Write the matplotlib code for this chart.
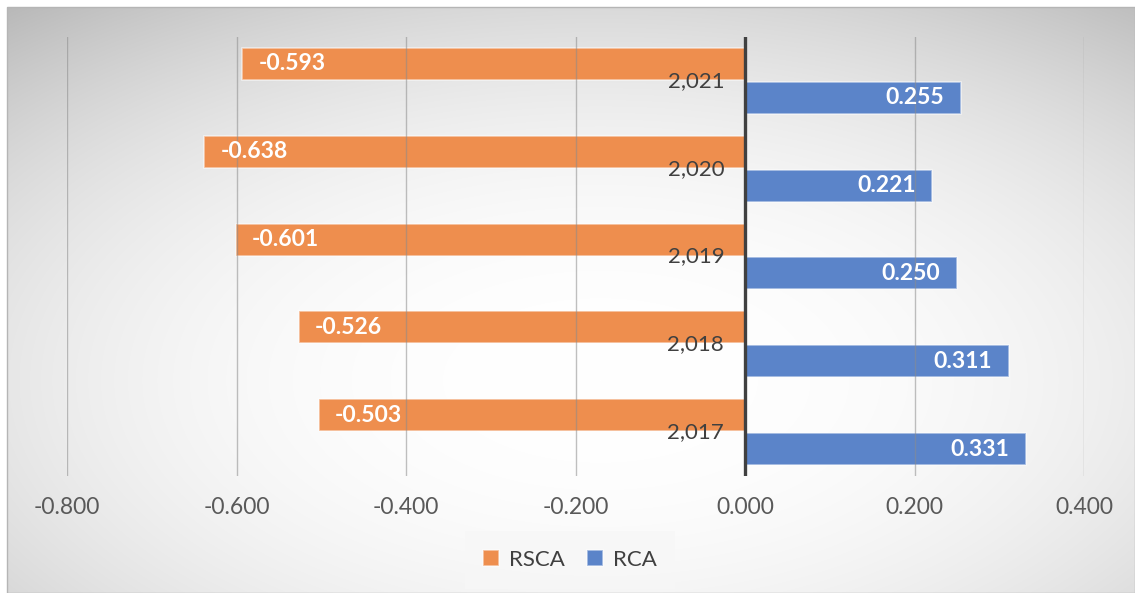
import numpy as np
import matplotlib
matplotlib.use("Agg")
import matplotlib.pyplot as plt
from matplotlib.ticker import FuncFormatter

# Data
years = [2017, 2018, 2019, 2020, 2021]
rsca = [-0.503, -0.526, -0.601, -0.638, -0.593]
rca = [0.331, 0.311, 0.250, 0.221, 0.255]
x_ticks = [-0.8, -0.6, -0.4, -0.2, 0.0, 0.2, 0.4]

W, H = 1135, 593
DPI = 100
plt.rcParams["font.family"] = ["Lato", "DejaVu Sans"]

fig = plt.figure(figsize=(W / DPI, H / DPI), dpi=DPI)
fig.patch.set_facecolor("white")

# Radial grey-to-white background panel
bg = fig.add_axes([7 / W, 0, 1 - 7 / W, 1 - 7 / H], zorder=-5)
yy, xx = np.mgrid[7:H, 7:W]
cx, cy = 600.0, 380.0
r = np.sqrt(((xx - cx) / W) ** 2 + ((yy - cy) / H) ** 2)
g = np.clip(1 - 0.45 * r ** 2.4, 0.72, 1.0)
bg.imshow(np.dstack([g, g, g]), aspect="auto", interpolation="bilinear",
          extent=[0, 1, 0, 1])
bg.set_axis_off()
fig.add_artist(plt.Rectangle((7 / W, 0), 1 - 7 / W, 1 - 7 / H,
                             transform=fig.transFigure, fill=False,
                             edgecolor="#b5b5b5", linewidth=1.0))

ax = fig.add_axes([67 / W, 1 - 476 / H, (1084 - 67) / W, (476 - 37) / H])
ax.set_facecolor("none")

pos = np.arange(len(years))
bh = 0.364
off = 0.193
orange = "#EE8E4E"
blue = "#5B84C9"

ax.barh(pos + off, rsca, height=bh, color=orange,
        edgecolor=(1, 1, 1, 0.55), linewidth=1.2, zorder=2, label="RSCA")
ax.barh(pos - off, rca, height=bh, color=blue,
        edgecolor=(1, 1, 1, 0.55), linewidth=1.2, zorder=2, label="RCA")

ax.set_xlim(-0.8, 0.4)
ax.set_ylim(-0.5, len(years) - 0.5)
ax.set_xticks(x_ticks)
ax.xaxis.set_major_formatter(FuncFormatter(lambda v, p: f"{v:.3f}"))
ax.tick_params(axis="x", length=0, pad=15, labelsize=16.5, labelcolor="#595959")
ax.set_yticks([])
for s in ax.spines.values():
    s.set_visible(False)

ax.grid(axis="x", color="#8c8c8c", alpha=0.55, linewidth=1.0, zorder=3)
ax.set_axisbelow(False)
ax.axvline(0, color="#404040", linewidth=2.4, zorder=4)

# Value labels at the inner end of each bar
for p, v in zip(pos, rsca):
    ax.annotate(f"{v:.3f}", (v, p + off), xytext=(11.5, 0),
                textcoords="offset points", ha="left", va="center",
                color="white", fontsize=16.5, fontweight="bold", zorder=5)
for p, v in zip(pos, rca):
    ax.annotate(f"{v:.3f}", (v, p - off), xytext=(-12, 0),
                textcoords="offset points", ha="right", va="center",
                color="white", fontsize=16.5, fontweight="bold", zorder=5)

# Year labels beside the zero axis
for p, yv in zip(pos, years):
    ax.annotate(f"{yv:,}", (0, p), xytext=(-15, 0),
                textcoords="offset points", ha="right", va="center",
                color="#404040", fontsize=16, zorder=5)

leg = fig.legend(loc="center", bbox_to_anchor=(570 / W, 1 - 560 / H),
                 ncol=2, frameon=True, fontsize=16, handlelength=0.7,
                 handleheight=0.7, handletextpad=0.45, columnspacing=1.0,
                 borderpad=0.55)
leg.get_frame().set_facecolor("#f7f7f7")
leg.get_frame().set_edgecolor("none")
leg.get_frame().set_alpha(0.8)
leg.get_frame().set_boxstyle("square")
for t in leg.get_texts():
    t.set_color("#404040")

fig.savefig("out.png", dpi=DPI)
